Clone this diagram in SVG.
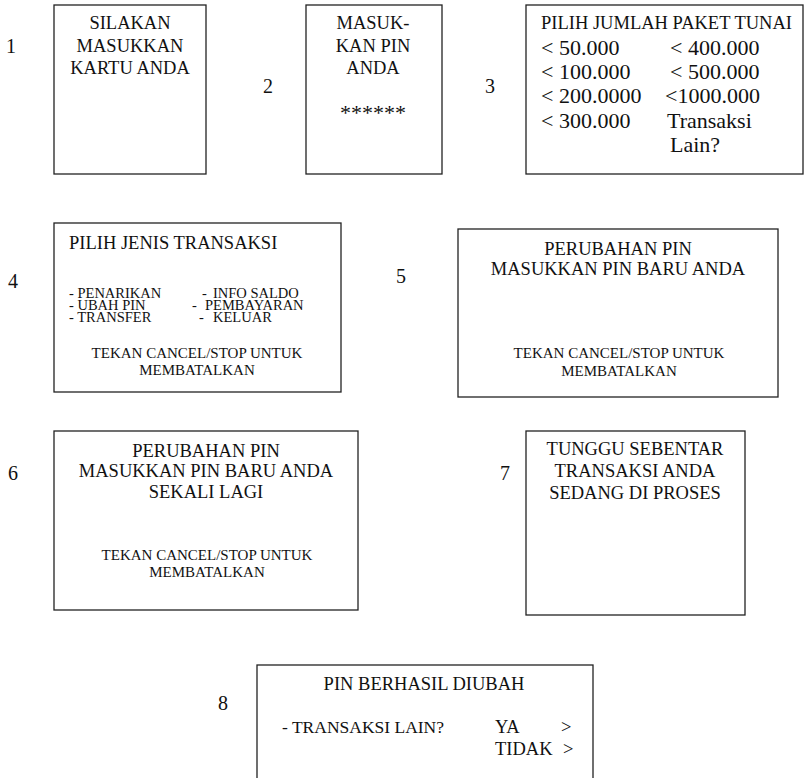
<svg xmlns="http://www.w3.org/2000/svg" width="804" height="778" viewBox="0 0 804 778">
<style>
.box{fill:#fff;stroke:#222;stroke-width:1.3}
text{font-family:"Liberation Serif","Times New Roman",serif;fill:#111}
.t{font-size:18.5px}
.c{text-anchor:middle}
.s{font-size:15px}
.l{font-size:14.5px}
.n{font-size:22px}
.lab{font-size:20px}
</style>
<rect width="804" height="778" fill="#fff"/>
<g id="labels">
<text class="lab" x="6" y="53">1</text>
<text class="lab" x="263" y="93">2</text>
<text class="lab" x="485" y="93">3</text>
<text class="lab" x="8" y="288">4</text>
<text class="lab" x="396" y="283">5</text>
<text class="lab" x="8" y="480">6</text>
<text class="lab" x="500" y="480">7</text>
<text class="lab" x="218" y="710">8</text>
</g>
<g id="screen1">
<rect class="box" x="54" y="5" width="152" height="169"/>
<text class="t c" x="130" y="29">SILAKAN</text>
<text class="t c" x="130" y="52">MASUKKAN</text>
<text class="t c" x="130" y="74">KARTU ANDA</text>
</g>
<g id="screen2">
<rect class="box" x="306" y="5" width="136" height="169"/>
<text class="t c" x="373" y="29">MASUK-</text>
<text class="t c" x="373" y="52">KAN PIN</text>
<text class="t c" x="373" y="74">ANDA</text>
<text class="n c" x="373" y="120">******</text>
</g>
<g id="screen3">
<rect class="box" x="526" y="5" width="277" height="169"/>
<text class="t" x="541" y="29">PILIH JUMLAH PAKET TUNAI</text>
<text class="n" x="541" y="55">&lt; 50.000</text>
<text class="n" x="541" y="79">&lt; 100.000</text>
<text class="n" x="541" y="103">&lt; 200.0000</text>
<text class="n" x="541" y="128">&lt; 300.000</text>
<text class="n" x="670" y="55">&lt; 400.000</text>
<text class="n" x="670" y="79">&lt; 500.000</text>
<text class="n" x="665" y="103">&lt;1000.000</text>
<text class="n" x="667" y="128">Transaksi</text>
<text class="n" x="670" y="152">Lain?</text>
</g>
<g id="screen4">
<rect class="box" x="54" y="223" width="287" height="169"/>
<text class="t" x="69" y="249">PILIH JENIS TRANSAKSI</text>
<text class="l" x="69" y="298">- PENARIKAN</text>
<text class="l" x="69" y="310">- UBAH PIN</text>
<text class="l" x="69" y="322">- TRANSFER</text>
<text class="l" x="202" y="298">-</text><text class="l" x="213" y="298">INFO SALDO</text>
<text class="l" x="192" y="310">-</text><text class="l" x="205" y="310">PEMBAYARAN</text>
<text class="l" x="199" y="322">-</text><text class="l" x="213" y="322">KELUAR</text>
<text class="s c" x="197" y="358">TEKAN CANCEL/STOP UNTUK</text>
<text class="s c" x="197" y="375">MEMBATALKAN</text>
</g>
<g id="screen5">
<rect class="box" x="458" y="229" width="320" height="168"/>
<text class="t c" x="618" y="255">PERUBAHAN PIN</text>
<text class="t c" x="618" y="275">MASUKKAN PIN BARU ANDA</text>
<text class="s c" x="619" y="358">TEKAN CANCEL/STOP UNTUK</text>
<text class="s c" x="619" y="376">MEMBATALKAN</text>
</g>
<g id="screen6">
<rect class="box" x="54" y="431" width="304" height="179"/>
<text class="t c" x="206" y="457">PERUBAHAN PIN</text>
<text class="t c" x="206" y="477">MASUKKAN PIN BARU ANDA</text>
<text class="t c" x="206" y="498">SEKALI LAGI</text>
<text class="s c" x="207" y="560">TEKAN CANCEL/STOP UNTUK</text>
<text class="s c" x="207" y="577">MEMBATALKAN</text>
</g>
<g id="screen7">
<rect class="box" x="526" y="431" width="219" height="184"/>
<text class="t c" x="635" y="455">TUNGGU SEBENTAR</text>
<text class="t c" x="635" y="477">TRANSAKSI ANDA</text>
<text class="t c" x="635" y="499">SEDANG DI PROSES</text>
</g>
<g id="screen8">
<rect class="box" x="257" y="665" width="336" height="130"/>
<text class="t c" x="424" y="690">PIN BERHASIL DIUBAH</text>
<text class="t" x="282" y="733" style="font-size:17.5px">- TRANSAKSI LAIN?</text>
<text class="t" x="495" y="733">YA</text>
<text class="t" x="561" y="733">&gt;</text>
<text class="t" x="495" y="755">TIDAK</text>
<text class="t" x="563" y="755">&gt;</text>
</g>
<g id="connectors"/>
</svg>
